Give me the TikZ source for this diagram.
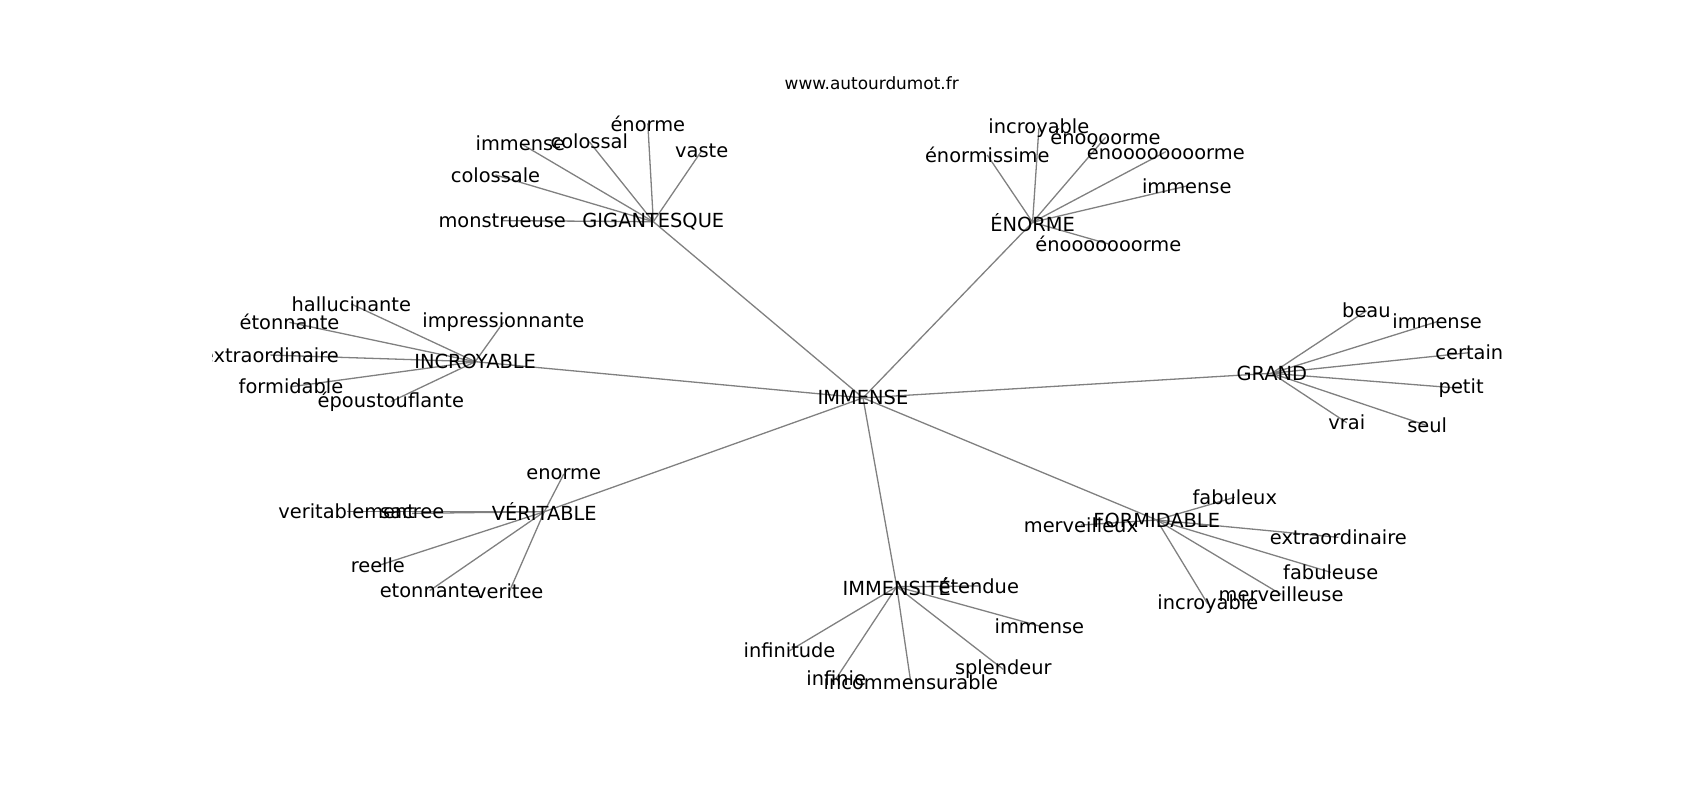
\documentclass[tikz,border=0pt]{standalone}
\usepackage{fontspec}
\setmainfont{DejaVu Sans}
\usetikzlibrary{backgrounds}
\tikzset{
  lbl/.style={font=\fontsize{8.95pt}{10pt}\selectfont, inner sep=0pt, text=black},
  ttl/.style={font=\fontsize{7.8pt}{9pt}\selectfont, inner sep=0pt, text=black},
  link/.style={draw=black!50, line width=0.6pt}
}
\begin{document}
\begin{tikzpicture}[x=0.5pt,y=-0.5pt]
\useasboundingbox (0,0) rectangle (1568,738);
\node[ttl] (title) at (804,76.5) {www.autourdumot.fr};
% centre and hubs
\node[lbl] (root) at (796,367) {IMMENSE};
\node[lbl] (gig) at (602.6,204.5) {GIGANTESQUE};
\node[lbl] (eno) at (952.4,205) {ÉNORME};
\node[lbl] (inc) at (438.3,333.6) {INCROYABLE};
\node[lbl] (gra) at (1173,344.3) {GRAND};
\node[lbl] (ver) at (502,472) {VÉRITABLE};
\node[lbl] (for) at (1066.9,479.6) {FORMIDABLE};
\node[lbl] (ims) at (827.1,541.1) {IMMENSITÉ};
% GIGANTESQUE leaves
\node[lbl] (g1) at (463.2,203.5) {monstrueuse};
\node[lbl] (g2) at (457,161.4) {colossale};
\node[lbl] (g3) at (480,132.2) {immense};
\node[lbl] (g4) at (543.5,130.7) {colossal};
\node[lbl] (g5) at (597.5,113.8) {énorme};
\node[lbl] (g6) at (647.2,139) {vaste};
% ÉNORME leaves
\node[lbl] (e1) at (958.2,118.4) {incroyable};
\node[lbl] (e2) at (1019.7,126.7) {énoooorme};
\node[lbl] (e3) at (1075.3,139.9) {énoooooooorme};
\node[lbl] (e4) at (1094.6,171.6) {immense};
\node[lbl] (e5) at (1022.3,225) {énooooooorme};
\node[lbl] (e6) at (910.6,143) {énormissime};
% INCROYABLE leaves
\node[lbl] (i1) at (324,280.4) {hallucinante};
\node[lbl] (i2) at (267,297.3) {étonnante};
\begin{scope}
\clip (196,88.5) rectangle (1411.3,656.8);
\node[lbl] (i3) at (249.4,327.5) {extraordinaire};
\end{scope}
\node[lbl] (i4) at (268.4,356.7) {formidable};
\node[lbl] (i5) at (360.5,370.5) {époustouflante};
\node[lbl] (i6) at (464.3,297.3) {impressionnante};
% GRAND leaves
\node[lbl] (r1) at (1260.3,286.6) {beau};
\node[lbl] (r2) at (1325.5,296.7) {immense};
\node[lbl] (r3) at (1355.2,325.3) {certain};
\node[lbl] (r4) at (1347.7,358.2) {petit};
\node[lbl] (r5) at (1242.2,389.9) {vrai};
\node[lbl] (r6) at (1316.4,392.6) {seul};
% VÉRITABLE leaves
\node[lbl] (v1) at (520,437.2) {enorme};
\node[lbl] (v2) at (319.8,472) {veritablement};
\node[lbl] (v3) at (380.2,473.5) {sacree};
\node[lbl] (v4) at (348.5,521.8) {reelle};
\node[lbl] (v5) at (396.3,544.8) {etonnante};
\node[lbl] (v6) at (469.7,545.8) {veritee};
% FORMIDABLE leaves
\node[lbl] (f1) at (997,484.3) {merveilleux};
\node[lbl] (f2) at (1138.9,458.7) {fabuleux};
\node[lbl] (f3) at (1234.4,495.6) {extraordinaire};
\node[lbl] (f4) at (1227.4,527.9) {fabuleuse};
\node[lbl] (f5) at (1181.6,548.2) {merveilleuse};
\node[lbl] (f6) at (1114,557.1) {incroyable};
% IMMENSITÉ leaves
\node[lbl] (m1) at (902.8,540.5) {étendue};
\node[lbl] (m2) at (958.7,577.4) {immense};
\node[lbl] (m3) at (728.2,600.2) {infinitude};
\node[lbl] (m4) at (771.3,625.7) {infinie};
\node[lbl] (m5) at (840.1,629.7) {incommensurable};
\node[lbl] (m6) at (925.4,617.4) {splendeur};
% connectors
\begin{scope}[on background layer]
\foreach \h in {gig,eno,inc,gra,ver,for,ims}
  \draw[link] (root.center) -- (\h.center);
\foreach \l in {g1,g2,g3,g4,g5,g6}
  \draw[link] (gig.center) -- (\l.center);
\foreach \l in {e1,e2,e3,e4,e5,e6}
  \draw[link] (eno.center) -- (\l.center);
\foreach \l in {i1,i2,i3,i4,i5,i6}
  \draw[link] (inc.center) -- (\l.center);
\foreach \l in {r1,r2,r3,r4,r5,r6}
  \draw[link] (gra.center) -- (\l.center);
\foreach \l in {v1,v2,v3,v4,v5,v6}
  \draw[link] (ver.center) -- (\l.center);
\foreach \l in {f1,f2,f3,f4,f5,f6}
  \draw[link] (for.center) -- (\l.center);
\foreach \l in {m1,m2,m3,m4,m5,m6}
  \draw[link] (ims.center) -- (\l.center);
\end{scope}
\end{tikzpicture}
\end{document}
